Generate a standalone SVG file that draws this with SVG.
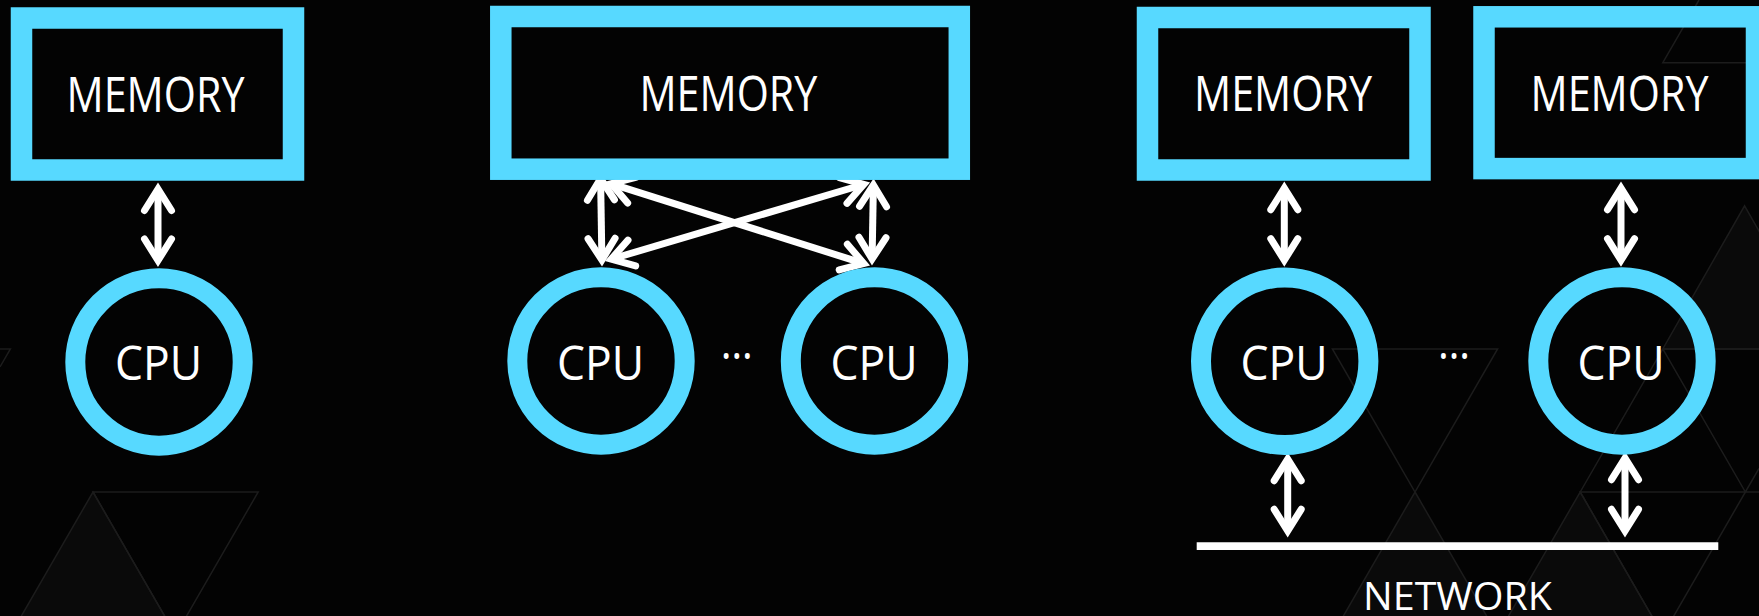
<svg xmlns="http://www.w3.org/2000/svg" width="1759" height="616" viewBox="0 0 1759 616">
<style>
.bg-line{fill:none;stroke:#1c1c1c;stroke-width:1.5}
.bg-fill{fill:#0a0a0a;stroke:#1c1c1c;stroke-width:1.5}
.mem{fill:none;stroke:#57D9FF;stroke-width:21.5}
.cpu{fill:none;stroke:#57D9FF;stroke-width:20}
.lbl{font-family:"Open Sans","Liberation Sans",sans-serif;font-weight:500;fill:#ffffff;text-anchor:middle}
.conn{fill:none;stroke:#ffffff;stroke-width:7;marker-start:url(#ah);marker-end:url(#ah)}
</style>
<defs>
<marker id="ah" markerUnits="userSpaceOnUse" orient="auto-start-reverse" viewBox="-40 -30 60 60" markerWidth="60" markerHeight="60" refX="-7" refY="0" overflow="visible">
<path d="M-28,-13.5 L-6.5,0 L-28,13.5" fill="none" stroke="#ffffff" stroke-width="7" stroke-linecap="round" stroke-linejoin="miter"/>
</marker>
</defs>
<rect x="0" y="0" width="1759" height="616" fill="#030303"/>
<g id="background">
<polygon class="bg-fill" points="93,492 175.6,635 10.4,635"/>
<polygon class="bg-line" points="93,492 258.2,492 175.6,635"/>
<path class="bg-line" d="M0,348.9 L10.4,348.9 L0,366.9"/>
<polygon class="bg-line" points="1332.4,348.9 1497.6,348.9 1415,492"/>
<polygon class="bg-fill" points="1415,492 1497.6,635 1332.4,635"/>
<polygon class="bg-fill" points="1580.2,492 1662.8,635 1497.6,635"/>
<polygon class="bg-line" points="1580.2,492 1745.4,492 1662.8,635"/>
<polygon class="bg-fill" points="1744.6,205.8 1826.4,348.9 1662.8,348.9"/>
<path class="bg-line" d="M1662.8,348.9 L1580.2,492 M1662.8,348.9 L1745.4,492 L1759,468.5 M1662.8,348.9 L1759,348.9 M1745.4,492 L1759,492"/>
<path class="bg-line" d="M1699,0 L1662.8,62.7 L1759,62.7"/>
</g>
<g id="connectors">
<line class="conn" x1="158" y1="189.5" x2="158" y2="260"/>
<line class="conn" x1="600.6" y1="179" x2="601.9" y2="259.5"/>
<line class="conn" x1="873.4" y1="185.5" x2="872.1" y2="258.5"/>
<line class="conn" x1="611.7" y1="183.8" x2="863.3" y2="263.4"/>
<line class="conn" x1="611.7" y1="259" x2="863.3" y2="184.5"/>
<line class="conn" x1="1284.3" y1="188.7" x2="1284.3" y2="259.7"/>
<line class="conn" x1="1621" y1="188.7" x2="1621" y2="259.7"/>
<line class="conn" x1="1287.7" y1="459.7" x2="1287.7" y2="530.3"/>
<line class="conn" x1="1625" y1="458.7" x2="1625" y2="530.3"/>
</g>
<g id="memory1">
<rect class="mem" x="21.5" y="18" width="272" height="152"/>
<text class="lbl" x="155.5" y="112" font-size="49" textLength="178" lengthAdjust="spacingAndGlyphs">MEMORY</text>
</g>
<g id="cpu1">
<circle class="cpu" cx="159" cy="362" r="83.7"/>
<text class="lbl" x="158.5" y="380" font-size="48" textLength="87" lengthAdjust="spacingAndGlyphs">CPU</text>
</g>
<g id="memory2">
<rect class="mem" x="500.8" y="16.5" width="458.5" height="152.7"/>
<text class="lbl" x="728.4" y="111" font-size="49" textLength="178" lengthAdjust="spacingAndGlyphs">MEMORY</text>
</g>
<g id="cpu2">
<circle class="cpu" cx="601" cy="361" r="83.7"/>
<text class="lbl" x="600.5" y="379.5" font-size="48" textLength="87" lengthAdjust="spacingAndGlyphs">CPU</text>
</g>
<g id="dots1">
<text class="lbl" x="736.7" y="359" font-size="48" textLength="32" lengthAdjust="spacingAndGlyphs">…</text>
</g>
<g id="cpu3">
<circle class="cpu" cx="874.5" cy="361" r="83.7"/>
<text class="lbl" x="874" y="379.5" font-size="48" textLength="87" lengthAdjust="spacingAndGlyphs">CPU</text>
</g>
<g id="memory3">
<rect class="mem" x="1147.5" y="17.5" width="272.5" height="152.5"/>
<text class="lbl" x="1283" y="111" font-size="49" textLength="178" lengthAdjust="spacingAndGlyphs">MEMORY</text>
</g>
<g id="cpu4">
<circle class="cpu" cx="1284.7" cy="361.3" r="83.7"/>
<text class="lbl" x="1284" y="379.5" font-size="48" textLength="87" lengthAdjust="spacingAndGlyphs">CPU</text>
</g>
<g id="dots2">
<text class="lbl" x="1454" y="359" font-size="48" textLength="32" lengthAdjust="spacingAndGlyphs">…</text>
</g>
<g id="memory4">
<rect class="mem" x="1484" y="16.8" width="272.5" height="151.8"/>
<text class="lbl" x="1619.5" y="110.5" font-size="49" textLength="178" lengthAdjust="spacingAndGlyphs">MEMORY</text>
</g>
<g id="cpu5">
<circle class="cpu" cx="1622" cy="361" r="83.7"/>
<text class="lbl" x="1621" y="379.5" font-size="48" textLength="87" lengthAdjust="spacingAndGlyphs">CPU</text>
</g>
<g id="network">
<line x1="1196.7" y1="546.2" x2="1718.3" y2="546.2" stroke="#ffffff" stroke-width="7.7"/>
<text class="lbl" x="1457.5" y="609.5" font-size="39" textLength="189" lengthAdjust="spacingAndGlyphs">NETWORK</text>
</g>
</svg>
